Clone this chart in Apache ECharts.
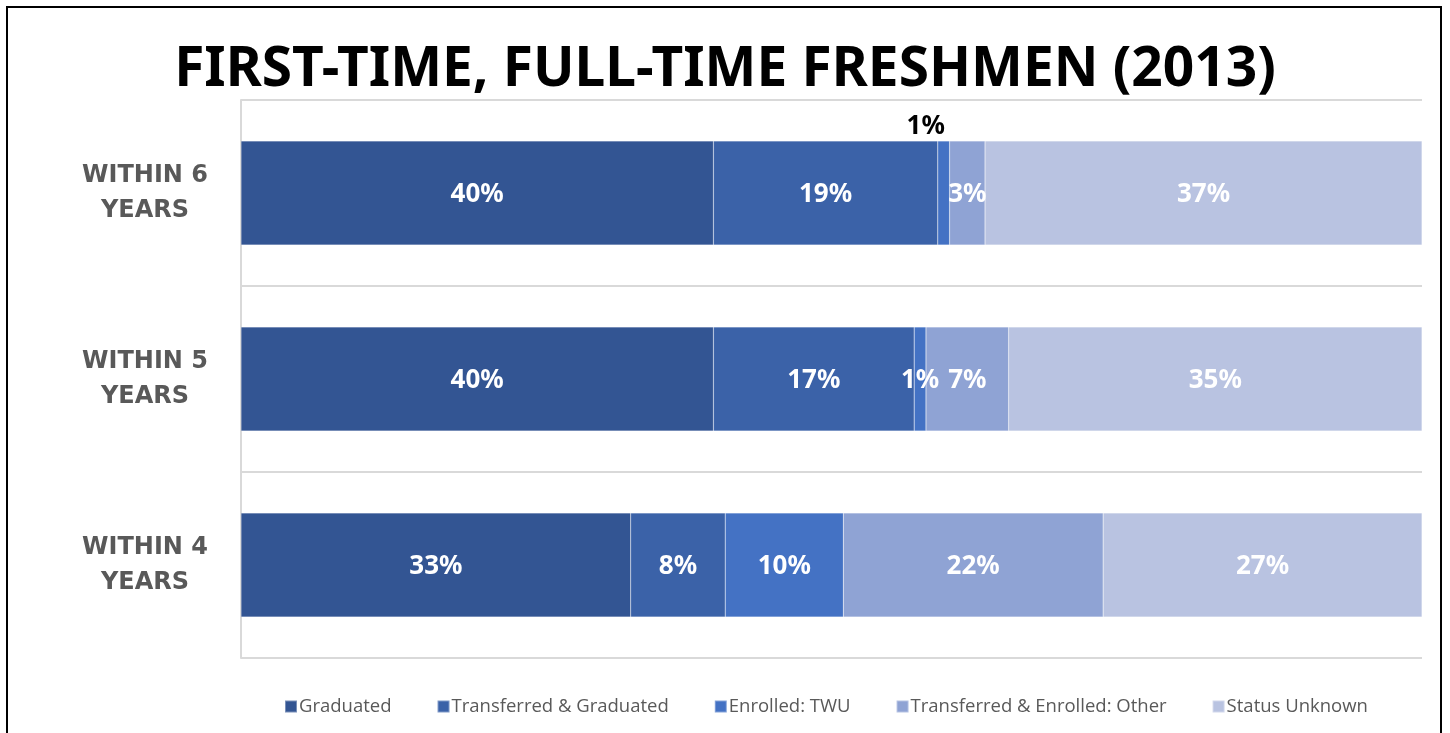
<!DOCTYPE html>
<html>
<head>
<meta charset="utf-8">
<script src="https://cdn.jsdelivr.net/npm/echarts@6/dist/echarts.min.js"></script>
<style>
html,body{margin:0;padding:0;background:#fff;}
#chart{width:1450px;height:733px;}
</style>
</head>
<body>
<div id="chart"></div>
<script>
// Categories (bottom to top as drawn)
const categories = ['WITHIN 4\nYEARS', 'WITHIN 5\nYEARS', 'WITHIN 6\nYEARS'];
const seriesNames = ['Graduated', 'Transferred & Graduated', 'Enrolled: TWU', 'Transferred & Enrolled: Other', 'Status Unknown'];
const graduated = [33, 40, 40];
const transferredGraduated = [8, 17, 19];
const enrolledTWU = [10, 1, 1];
const transferredEnrolledOther = [22, 7, 3];
const statusUnknown = [27, 35, 37];
const colors = ['#335593', '#3b62a8', '#4472c4', '#8fa3d4', '#b9c3e1'];

const chart = echarts.init(document.getElementById('chart'));
const labelStyle = {
  show: true,
  formatter: '{c}%',
  color: '#ffffff',
  fontFamily: 'Noto Sans',
  fontWeight: 'bold',
  fontSize: 26,
  offset: [0, 2]
};
function mk(name, data, idx) {
  return {
    name: name,
    type: 'bar',
    stack: 'total',
    barWidth: '56%',
    itemStyle: { color: colors[idx], borderColor: 'rgba(255,255,255,0.35)', borderWidth: 0.5 },
    label: labelStyle,
    emphasis: { disabled: true },
    data: data.map((v, i) => {
      if (idx === 2 && i === 2) {
        return { value: v, label: { position: 'top', color: '#000000', offset: [-18, 0], distance: 1 } };
      }
      return v;
    })
  };
}
const option = {
  animation: false,
  backgroundColor: '#ffffff',
  title: {
    text: 'FIRST-TIME, FULL-TIME FRESHMEN (2013)',
    left: 'center',
    top: 38,
    textStyle: { fontFamily: 'Noto Sans', fontWeight: 'bold', fontSize: 55, color: '#000000' }
  },
  legend: {
    bottom: 12,
    left: 279,
    itemWidth: 12,
    itemHeight: 12,
    itemGap: 45,
    icon: 'rect',
    textStyle: { fontFamily: 'Open Sans', fontSize: 18.5, color: '#595959', padding: [0, 0, 0, -3] },
    data: seriesNames
  },
  grid: { left: 241, right: 28, top: 100, bottom: 75 },
  xAxis: {
    type: 'value', min: 0, max: 100,
    axisLabel: { show: false }, splitLine: { show: false },
    axisLine: { show: false }, axisTick: { show: false }
  },
  yAxis: {
    type: 'category',
    data: categories,
    axisLine: { show: true, lineStyle: { color: '#d9d9d9', width: 2 } },
    axisTick: { show: false },
    splitLine: { show: true, lineStyle: { color: '#d9d9d9', width: 2 } },
    axisLabel: {
      align: 'center',
      margin: 96,
      fontFamily: 'DejaVu Sans',
      fontWeight: 'bold',
      fontSize: 24,
      lineHeight: 35,
      padding: [5, 0, 0, 0],
      color: '#595959'
    }
  },
  graphic: [{
    type: 'rect',
    shape: { x: 7, y: 7, width: 1434, height: 760 },
    style: { fill: null, stroke: '#000000', lineWidth: 2 },
    silent: true
  }],
  series: [
    mk(seriesNames[0], graduated, 0),
    mk(seriesNames[1], transferredGraduated, 1),
    mk(seriesNames[2], enrolledTWU, 2),
    mk(seriesNames[3], transferredEnrolledOther, 3),
    mk(seriesNames[4], statusUnknown, 4)
  ]
};
chart.setOption(option);
</script>
</body>
</html>
